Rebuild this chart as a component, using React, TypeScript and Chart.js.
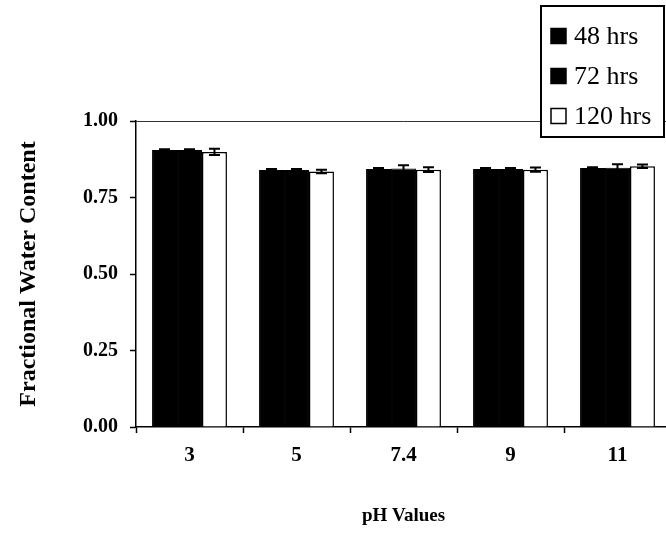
import React, { useEffect, useRef } from "react";
import { Chart, registerables } from "chart.js";

Chart.register(...registerables);

const categories = ["3", "5", "7.4", "9", "11"];
const seriesLabels = ["48 hrs", "72 hrs", "120 hrs"];
const values48 = [0.905, 0.84, 0.843, 0.843, 0.846];
const values72 = [0.905, 0.84, 0.845, 0.843, 0.847];
const values120 = [0.899, 0.835, 0.841, 0.841, 0.852];
const errors48 = [0.003, 0.003, 0.003, 0.003, 0.003];
const errors72 = [0.003, 0.003, 0.01, 0.003, 0.012];
const errors120 = [0.01, 0.006, 0.008, 0.007, 0.006];
const yTickValues = [0, 0.25, 0.5, 0.75, 1.0];
const xTitle = "pH Values";
const yTitle = "Fractional Water Content";

const SERIF = '"Liberation Serif", "Times New Roman", serif';

const errorBarsPlugin = {
  id: "errorBars",
  afterDatasetsDraw(chart: any) {
    const ctx = chart.ctx;
    const yScale = chart.scales.y;
    const allErrors = [errors48, errors72, errors120];
    ctx.save();
    ctx.strokeStyle = "#000";
    ctx.lineWidth = 2;
    chart.data.datasets.forEach((ds: any, i: number) => {
      const meta = chart.getDatasetMeta(i);
      meta.data.forEach((bar: any, j: number) => {
        const v = ds.data[j];
        const e = allErrors[i][j];
        const yTop = yScale.getPixelForValue(v + e);
        const yBot = yScale.getPixelForValue(v - e);
        const x = bar.x;
        const cap = 5.5;
        ctx.beginPath();
        ctx.moveTo(x, yTop);
        ctx.lineTo(x, yBot);
        ctx.moveTo(x - cap, yTop);
        ctx.lineTo(x + cap, yTop);
        ctx.moveTo(x - cap, yBot);
        ctx.lineTo(x + cap, yBot);
        ctx.stroke();
      });
    });
    ctx.restore();
  },
};

const plotBorderPlugin = {
  id: "plotBorder",
  beforeDatasetsDraw(chart: any) {
    const { ctx, chartArea } = chart;
    ctx.save();
    ctx.strokeStyle = "#333";
    ctx.lineWidth = 1;
    ctx.beginPath();
    ctx.moveTo(chartArea.left, chartArea.top + 0.5);
    ctx.lineTo(chartArea.right, chartArea.top + 0.5);
    ctx.stroke();
    ctx.restore();
  },
};

const boxLegendPlugin = {
  id: "boxLegend",
  afterDraw(chart: any) {
    const ctx = chart.ctx;
    const left = 541;
    const top = 6;
    const w = 123;
    const h = 131;
    ctx.save();
    ctx.fillStyle = "#fff";
    ctx.fillRect(left, top, w, h);
    ctx.strokeStyle = "#000";
    ctx.lineWidth = 2;
    ctx.strokeRect(left, top, w, h);
    chart.data.datasets.forEach((ds: any, i: number) => {
      const cy = top + 30 + i * 40;
      const sx = left + 10;
      const size = 15;
      ctx.fillStyle = ds.backgroundColor;
      ctx.fillRect(sx, cy - size / 2, size, size);
      ctx.strokeStyle = "#000";
      ctx.lineWidth = 1.5;
      ctx.strokeRect(sx, cy - size / 2, size, size);
      ctx.fillStyle = "#000";
      ctx.font = `26px ${SERIF}`;
      ctx.textBaseline = "middle";
      ctx.textAlign = "left";
      ctx.fillText(ds.label, left + 33, cy + 1);
    });
    ctx.restore();
  },
};

export default function App() {
  const canvasRef = useRef<HTMLCanvasElement | null>(null);

  useEffect(() => {
    const canvas = canvasRef.current;
    if (!canvas) return;
    const chart = new Chart(canvas, {
      type: "bar",
      data: {
        labels: categories,
        datasets: [
          {
            label: seriesLabels[0],
            data: values48,
            backgroundColor: "#000",
            borderColor: "#000",
            borderWidth: 1,
          },
          {
            label: seriesLabels[1],
            data: values72,
            backgroundColor: "#000",
            borderColor: "#000",
            borderWidth: 1,
          },
          {
            label: seriesLabels[2],
            data: values120,
            backgroundColor: "#fff",
            borderColor: "#000",
            borderWidth: 1.5,
          },
        ],
      },
      options: {
        responsive: false,
        animation: false,
        devicePixelRatio: 1,
        layout: { padding: { left: 14, top: 121, right: 49, bottom: 9 } },
        datasets: {
          bar: { categoryPercentage: 0.7, barPercentage: 1.0 },
        },
        plugins: {
          legend: { display: false },
          tooltip: { enabled: false },
          title: { display: false },
        },
        scales: {
          x: {
            grid: {
              display: true,
              drawOnChartArea: false,
              drawTicks: true,
              tickLength: 6,
              tickColor: "#000",
              tickWidth: 1.5,
              offset: true,
            },
            border: { display: true, color: "#000", width: 1.5 },
            ticks: {
              color: "#000",
              padding: 10,
              font: { family: SERIF, size: 21, weight: "bold" },
              maxRotation: 0,
            },
            title: {
              display: true,
              text: xTitle,
              color: "#000",
              padding: 0,
              font: { family: SERIF, size: 19, weight: "bold" },
            },
            afterFit(scale: any) {
              scale.height = 100;
            },
          },
          y: {
            min: 0,
            max: 1,
            afterBuildTicks(scale: any) {
              scale.ticks = yTickValues.map((v) => ({ value: v }));
            },
            grid: {
              display: true,
              drawOnChartArea: false,
              drawTicks: true,
              tickLength: 6,
              tickColor: "#000",
              tickWidth: 1.5,
            },
            border: { display: true, color: "#000", width: 1.5 },
            ticks: {
              color: "#000",
              padding: 12,
              font: { family: SERIF, size: 20, weight: "bold" },
              callback: (v: any) => Number(v).toFixed(2),
            },
            title: {
              display: true,
              text: yTitle,
              color: "#000",
              padding: 0,
              font: { family: SERIF, size: 24, weight: "bold" },
            },
            afterFit(scale: any) {
              scale.width = 122;
            },
          },
        },
      },
      plugins: [plotBorderPlugin, errorBarsPlugin, boxLegendPlugin],
    });
    return () => chart.destroy();
  }, []);

  return (
    <div
      style={{
        position: "fixed",
        left: 0,
        top: 0,
        width: 666,
        height: 536,
        overflow: "hidden",
        background: "#fff",
      }}
    >
      <canvas
        ref={canvasRef}
        width={720}
        height={536}
        style={{ width: 720, height: 536, display: "block" }}
      />
    </div>
  );
}
